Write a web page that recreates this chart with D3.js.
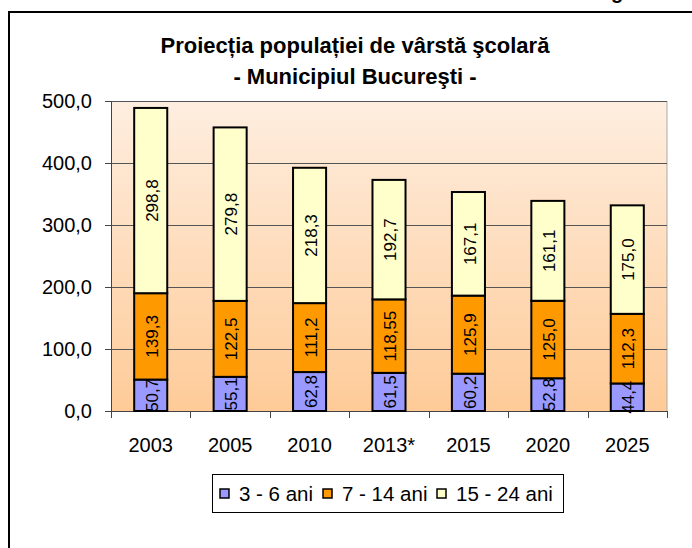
<!DOCTYPE html>
<html><head><meta charset="utf-8">
<script src="https://cdn.jsdelivr.net/npm/d3@7"></script>
<style>
html,body{margin:0;padding:0;background:#fff;}
svg{display:block;font-family:Arial,"Liberation Sans",sans-serif;}
</style></head>
<body>
<svg id="c" width="692" height="548"></svg>
<script>
const years = ["2003","2005","2010","2013*","2015","2020","2025"];
const age3to6 = [50.7,55.1,62.8,61.5,60.2,52.8,44.4];
const age7to14 = [139.3,122.5,111.2,118.55,125.9,125.0,112.3];
const age15to24 = [298.8,279.8,218.3,192.7,167.1,161.1,175.0];
const seriesNames = ["3 - 6 ani","7 - 14 ani","15 - 24 ani"];
const seriesColors = ["#9999ff","#ff9900","#ffffcc"];
const yTicks = [0,100,200,300,400,500];
const titleLines = ["Proiecția populației de vârstă şcolară","- Municipiul Bucureşti -"];

const svg = d3.select("#c");
const L = 111, R = 667, T = 101, B = 411;
const FONT = "Arial, 'Liberation Sans', sans-serif";

// outer frame
svg.append("rect").attr("x",9).attr("y",12).attr("width",700).attr("height",560)
  .attr("fill","none").attr("stroke","#000").attr("stroke-width",2);
// cropped glyph at top right (part of the reference image)
svg.append("text").attr("x",611).attr("y",-1).attr("font-size",20).attr("font-weight","bold").text("g");

const defs = svg.append("defs");
const grad = defs.append("linearGradient").attr("id","bg").attr("x1",0).attr("y1",0).attr("x2",0).attr("y2",1);
grad.append("stop").attr("offset","0%").attr("stop-color","#feeee0");
grad.append("stop").attr("offset","100%").attr("stop-color","#fecb98");

const x = d3.scaleBand().domain(years).range([L,R]).paddingInner(0.584).paddingOuter(0.292);
const xt = d3.scaleBand().domain(years).range([L,R]);
const y = d3.scaleLinear().domain([0,500]).range([B,T]);

svg.append("rect").attr("x",L).attr("y",T).attr("width",R-L).attr("height",B-T).attr("fill","url(#bg)");
svg.append("line").attr("x1",R).attr("x2",R).attr("y1",T).attr("y2",B).attr("stroke","#aaa").attr("stroke-width",1);

// grid
svg.append("g").selectAll("line").data(yTicks.filter(d=>d>0)).join("line")
  .attr("x1",L).attr("x2",R).attr("y1",d=>Math.round(y(d))+0.5).attr("y2",d=>Math.round(y(d))+0.5)
  .attr("stroke","#555").attr("stroke-width",1);

// axes
const fmt = v => (Math.abs(v*10-Math.round(v*10))<1e-9 ? v.toFixed(1) : v.toFixed(2)).replace(".",",");
const yAxis = svg.append("g").attr("transform",`translate(${L},0)`)
  .call(d3.axisLeft(y).tickValues(yTicks).tickFormat(fmt).tickSize(6).tickPadding(13));
yAxis.select(".domain").attr("stroke","#444");
yAxis.selectAll(".tick line").attr("stroke","#444");
yAxis.selectAll("text").attr("font-size",20).attr("fill","#000").attr("font-family",FONT);

const xAxis = svg.append("g").attr("transform",`translate(0,${B})`)
  .call(d3.axisBottom(xt).tickSize(0).tickPadding(27));
xAxis.select(".domain").remove();
xAxis.selectAll("text").attr("font-size",20).attr("fill","#000").attr("font-family",FONT);
svg.append("line").attr("x1",L).attr("x2",R).attr("y1",B+0.5).attr("y2",B+0.5).attr("stroke","#444");
svg.append("g").selectAll("line").data(d3.range(years.length+1)).join("line")
  .attr("x1",i=>Math.round(L+i*xt.step())+0.5).attr("x2",i=>Math.round(L+i*xt.step())+0.5)
  .attr("y1",B).attr("y2",B+7).attr("stroke","#444");

// stacked bars
const seriesVals = [age3to6, age7to14, age15to24];
const rows = years.map((yr,i)=>({year:yr, s0:age3to6[i], s1:age7to14[i], s2:age15to24[i], idx:i}));
const stack = d3.stack().keys(["s0","s1","s2"])(rows);
const gBars = svg.append("g");
stack.forEach((layer,k)=>{
  gBars.append("g").selectAll("rect").data(layer).join("rect")
    .attr("x",d=>x(d.data.year)).attr("width",x.bandwidth())
    .attr("y",d=>y(d[1])).attr("height",d=>y(d[0])-y(d[1]))
    .attr("fill",seriesColors[k]).attr("stroke","#000").attr("stroke-width",2);
});
stack.forEach((layer,k)=>{
  svg.append("g").selectAll("text").data(layer).join("text")
    .attr("transform",d=>`translate(${x(d.data.year)+x.bandwidth()/2+1},${(y(d[0])+y(d[1]))/2}) rotate(-90)`)
    .attr("text-anchor","middle").attr("dy","0.36em").attr("font-size",17).attr("fill","#000")
    .text(d=>fmt(seriesVals[k][d.data.idx]));
});

// title
svg.append("g").selectAll("text").data(titleLines).join("text")
  .attr("x",355).attr("y",(d,i)=>53+i*31).attr("text-anchor","middle")
  .attr("font-size",22).attr("font-weight","bold").text(d=>d);

// legend
const lg = svg.append("g");
lg.append("rect").attr("x",212.5).attr("y",474.5).attr("width",351).attr("height",38)
  .attr("fill","#fff").attr("stroke","#000").attr("stroke-width",1);
const legX = [220, 323, 437];
seriesNames.forEach((n,i)=>{
  lg.append("rect").attr("x",legX[i]).attr("y",489).attr("width",9).attr("height",9)
    .attr("fill",seriesColors[i]).attr("stroke","#000").attr("stroke-width",1.5);
  lg.append("text").attr("x",legX[i]+19).attr("y",501).attr("font-size",20.5).text(n);
});
</script>
</body></html>
